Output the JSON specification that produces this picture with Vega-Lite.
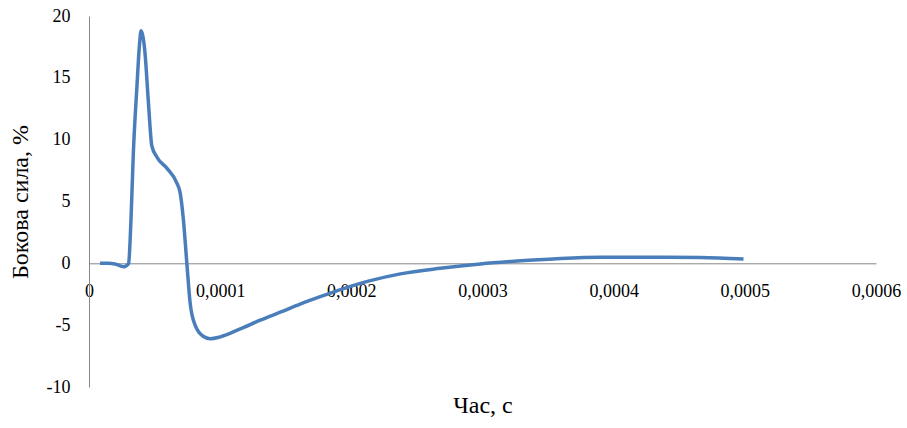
{
  "$schema": "https://vega.github.io/schema/vega-lite/v6.json",
  "width": 787,
  "height": 371,
  "autosize": {"type": "none"},
  "padding": {"left": 89, "top": 16, "right": 31, "bottom": 41},
  "background": "white",
  "config": {"view": {"stroke": null}, "font": "Liberation Serif, Times New Roman, serif"},
  "data": {"values": [
    {"t": 0.0000084, "v": 0},
    {"t": 0.0000145, "v": 0},
    {"t": 0.0000198, "v": -0.05},
    {"t": 0.0000237, "v": -0.2},
    {"t": 0.0000267, "v": -0.28},
    {"t": 0.000029, "v": -0.15},
    {"t": 0.0000302, "v": 0},
    {"t": 0.0000321, "v": 3.8},
    {"t": 0.0000338, "v": 8.9},
    {"t": 0.0000366, "v": 14.4},
    {"t": 0.0000385, "v": 17.7},
    {"t": 0.0000397, "v": 18.8},
    {"t": 0.0000412, "v": 18.3},
    {"t": 0.0000427, "v": 17.0},
    {"t": 0.0000453, "v": 13.0},
    {"t": 0.0000479, "v": 9.5},
    {"t": 0.0000517, "v": 8.6},
    {"t": 0.0000593, "v": 7.7},
    {"t": 0.0000669, "v": 6.5},
    {"t": 0.0000695, "v": 5.7},
    {"t": 0.000072, "v": 3.5},
    {"t": 0.0000746, "v": 0},
    {"t": 0.0000771, "v": -3.2},
    {"t": 0.0000809, "v": -5.0},
    {"t": 0.000087, "v": -5.9},
    {"t": 0.0000924, "v": -6.1},
    {"t": 0.0001, "v": -5.95},
    {"t": 0.0001153, "v": -5.3},
    {"t": 0.0001305, "v": -4.6},
    {"t": 0.0001458, "v": -3.95},
    {"t": 0.000161, "v": -3.3},
    {"t": 0.0001763, "v": -2.7},
    {"t": 0.0001954, "v": -2.0},
    {"t": 0.0002145, "v": -1.4},
    {"t": 0.0002374, "v": -0.85},
    {"t": 0.0002679, "v": -0.4},
    {"t": 0.0002985, "v": -0.05},
    {"t": 0.000329, "v": 0.2},
    {"t": 0.0003595, "v": 0.4},
    {"t": 0.00039, "v": 0.5},
    {"t": 0.000428, "v": 0.5},
    {"t": 0.000466, "v": 0.48},
    {"t": 0.000499, "v": 0.35}
  ]},
  "mark": {"type": "line", "interpolate": "monotone", "color": "#4A7EBB", "strokeWidth": 3.5},
  "encoding": {
    "x": {
      "field": "t", "type": "quantitative",
      "scale": {"domain": [0, 0.0006], "nice": false},
      "axis": {
        "values": [0, 0.0001, 0.0002, 0.0003, 0.0004, 0.0005, 0.0006],
        "labelExpr": "replace(format(datum.value, '.4~f'), '.', ',')",
        "offset": -123.7,
        "grid": false, "ticks": false,
        "domainColor": "#868686", "domainWidth": 1,
        "labelFont": "Liberation Serif, Times New Roman, serif", "labelFontSize": 18, "labelColor": "#000000",
        "labelPadding": 19, "labelFlush": false,
        "title": "Час, с", "titleFont": "Liberation Serif, Times New Roman, serif", "titleFontSize": 24,
        "titleFontWeight": "normal", "titleColor": "#000000", "titlePadding": 93
      }
    },
    "y": {
      "field": "v", "type": "quantitative",
      "scale": {"domain": [-10, 20], "nice": false},
      "axis": {
        "values": [-10, -5, 0, 5, 10, 15, 20],
        "labelExpr": "replace(datum.label, '−', '-')",
        "grid": false, "ticks": false,
        "domainColor": "#868686", "domainWidth": 1,
        "labelFont": "Liberation Serif, Times New Roman, serif", "labelFontSize": 18, "labelColor": "#000000",
        "labelPadding": 19,
        "title": "Бокова сила, %", "titleFont": "Liberation Serif, Times New Roman, serif", "titleFontSize": 24,
        "titleFontWeight": "normal", "titleColor": "#000000", "titlePadding": 14
      }
    }
  }
}
